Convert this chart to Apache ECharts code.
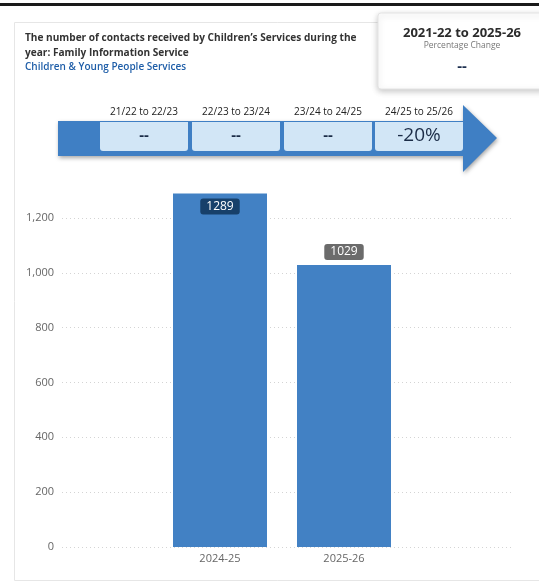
<!DOCTYPE html>
<html>
<head>
<meta charset="utf-8">
<script src="https://cdn.jsdelivr.net/npm/echarts@6/dist/echarts.min.js"></script>
<style>
  html, body { margin: 0; padding: 0; background: #ffffff; }
  #chart { width: 539px; height: 582px; }
</style>
</head>
<body>
<div id="chart"></div>
<script>
// Contacts received by the Family Information Service, per year
const years = ['2024-25', '2025-26'];
const contacts = [1289, 1029];

// Year-on-year change strip
const changePeriods = ['21/22 to 22/23', '22/23 to 23/24', '23/24 to 24/25', '24/25 to 25/26'];
const changeValues = ['--', '--', '--', '-20%'];

// Overall change card
const overallPeriod = '2021-22 to 2025-26';
const overallValue = '--';

// Value axis ticks
const yTicks = [0, 200, 400, 600, 800, 1000, 1200];

const FONT = '"Open Sans", "Noto Sans", sans-serif';
const BAR = '#4281c4';

const chart = echarts.init(document.getElementById('chart'), null, { renderer: 'canvas' });

// pixel layout of the plot
const plotBottom = 547;
const pxPerUnit = (547 - 218) / 1200;
const topFor = v => plotBottom - v * pxPerUnit;

const graphics = [];
// card frame
graphics.push({ type: 'rect', shape: { x: 14.5, y: 22.5, width: 540, height: 558 },
  style: { fill: '#fff', stroke: '#e6e6e6', lineWidth: 1 }, z: -10 });
// top rule
graphics.push({ type: 'rect', shape: { x: 0, y: 3, width: 539, height: 3 }, style: { fill: '#1a1a1a' }, z: 10 });
// title
graphics.push({ type: 'text', x: 25, y: 31, style: {
  text: 'The number of contacts received by Children\u2019s Services during the\nyear: Family Information Service',
  font: 'bold 10.1px ' + FONT, fill: '#333333', lineHeight: 14.5 } });
graphics.push({ type: 'text', x: 25, y: 62.5, style: {
  text: 'Children & Young People Services', font: '600 10px ' + FONT, fill: '#1f5ea8' } });

// overall change card
graphics.push({ type: 'rect', shape: { x: 378, y: 13, width: 170, height: 76, r: 3 },
  style: { fill: '#fff', stroke: '#e4e4e4', lineWidth: 1, shadowBlur: 6, shadowColor: 'rgba(0,0,0,0.22)', shadowOffsetY: 2 }, z: 5 });
graphics.push({ type: 'text', x: 462, y: 33, z: 6, style: { text: overallPeriod, font: 'bold 13px ' + FONT,
  fill: '#2b2b2b', align: 'center', verticalAlign: 'middle' } });
graphics.push({ type: 'text', x: 462, y: 46, z: 6, style: { text: 'Percentage Change', font: '8.5px ' + FONT,
  fill: '#777777', align: 'center', verticalAlign: 'middle' } });
graphics.push({ type: 'text', x: 462, y: 67, z: 6, style: { text: overallValue, font: 'bold 15px ' + FONT,
  fill: '#1c2f4f', align: 'center', verticalAlign: 'middle' } });

// arrow strip
graphics.push({ type: 'polygon', shape: { points: [[58, 121], [463, 121], [463, 105], [497, 138], [463, 172], [463, 156], [58, 156]] },
  style: { fill: '#3f7fc4', shadowBlur: 4, shadowColor: 'rgba(0,0,0,0.35)', shadowOffsetY: 2, shadowOffsetX: 1 } });
const boxX = [100, 192, 284, 375];
const boxW = 88;
changePeriods.forEach((p, i) => {
  graphics.push({ type: 'rect', shape: { x: boxX[i], y: 122, width: boxW, height: 29, r: [0, 0, 3, 3] },
    style: { fill: '#d2e6f6' }, z: 2 });
  graphics.push({ type: 'text', x: boxX[i] + boxW / 2, y: 112, z: 2, style: { text: p, font: '10px ' + FONT,
    fill: '#222222', align: 'center', verticalAlign: 'middle' } });
  graphics.push({ type: 'text', x: boxX[i] + boxW / 2, y: 136, z: 2, style: { text: changeValues[i],
    font: (changeValues[i] === '--' ? 'bold 15px ' : '19px ') + FONT,
    fill: '#1b2c47', align: 'center', verticalAlign: 'middle' } });
});

chart.setOption({
  animation: false,
  graphic: graphics,
  grid: [
    // ticks and gridlines
    { left: 62, right: 28, top: 218, bottom: 582 - plotBottom },
    // bars, same vertical scale, room above 1200
    { left: 158, width: 248, top: topFor(1400), bottom: 582 - plotBottom }
  ],
  xAxis: [
    { gridIndex: 0, type: 'category', data: [''], show: false },
    { gridIndex: 1, type: 'category', data: years,
      axisLine: { show: false }, axisTick: { show: false },
      axisLabel: { color: '#666666', fontSize: 11, fontFamily: FONT, margin: 6 } }
  ],
  yAxis: [
    { gridIndex: 0, type: 'value', min: 0, max: yTicks[yTicks.length - 1], interval: 200,
      axisLine: { show: false }, axisTick: { show: false },
      axisLabel: { color: '#666666', fontSize: 11, fontFamily: FONT, margin: 8,
        formatter: v => v.toLocaleString('en-GB') },
      splitLine: { lineStyle: { color: '#d4d4d4', type: [1, 3], width: 1 } } },
    { gridIndex: 1, type: 'value', min: 0, max: 1400, show: false, splitLine: { show: false } }
  ],
  series: [{
    type: 'bar', xAxisIndex: 1, yAxisIndex: 1,
    barWidth: 94,
    itemStyle: { color: BAR },
    data: contacts.map((v, i) => ({
      value: v,
      label: i === 0
        ? { show: true, position: 'insideTop', distance: 5, backgroundColor: '#17406a', color: '#ffffff' }
        : { show: true, position: 'top', distance: 5, backgroundColor: '#6b6b6b', color: '#ffffff' }
    })),
    label: { fontSize: 12, fontFamily: FONT, padding: [2, 6, 2, 6], borderRadius: 3 }
  }]
});
</script>
</body>
</html>
